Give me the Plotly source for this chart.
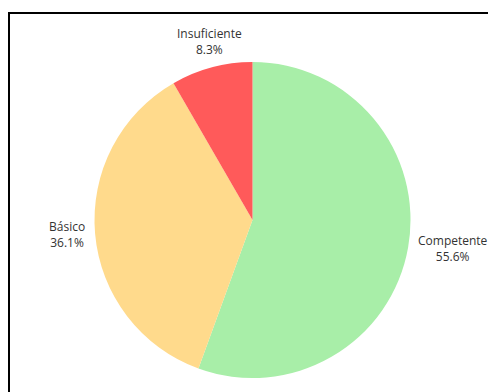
import math
import plotly.graph_objects as go

categories = ["Competente", "Básico", "Insuficiente"]
values = [20, 13, 3]
colors = ["#a8eea8", "#ffda8c", "#ff5a5a"]

W, H = 496, 392
cx, cy, r = 244.5, 212, 158   # pie centre / radius in figure pixels

fig = go.Figure(go.Pie(
    labels=categories,
    values=values,
    marker=dict(colors=colors, line=dict(width=0)),
    sort=False,
    direction="clockwise",
    rotation=0,
    textinfo="none",
    hoverinfo="label+percent",
    showlegend=False,
    domain=dict(x=[(cx - r) / W, (cx + r) / W], y=[1 - (cy + r) / H, 1 - (cy - r) / H]),
))

# outside labels placed along each slice's mid-angle
total = sum(values)
annotations = []
acc = 0
for lab, v in zip(categories, values):
    mid = (acc + v / 2) / total * 2 * math.pi  # clockwise from 12 o'clock
    acc += v
    s, c = math.sin(mid), -math.cos(mid)
    d = r * 1.05
    px, py = cx + s * d, cy + c * d
    if abs(s) < 0.5:
        xa = "center"
        ya = "bottom" if c < 0 else "top"
    else:
        xa = "left" if s > 0 else "right"
        ya = "middle"
    annotations.append(dict(
        x=px / W, y=1 - py / H, xref="paper", yref="paper",
        text=f"{lab}<br>{v / total * 100:.1f}%", showarrow=False,
        xanchor=xa, yanchor=ya, align="center",
        font=dict(family="Open Sans", size=12, color="#333333"),
    ))

fig.update_layout(
    width=W, height=H,
    margin=dict(l=0, r=0, t=0, b=0),
    paper_bgcolor="white",
    font=dict(family="Open Sans", size=12, color="#333333"),
    annotations=annotations,
    shapes=[dict(type="rect", xref="paper", yref="paper",
                 x0=1 / W, x1=1.2, y0=-0.2, y1=1 - 5 / H,
                 line=dict(color="black", width=2), fillcolor="rgba(0,0,0,0)")],
)

fig.write_html("out.html")
